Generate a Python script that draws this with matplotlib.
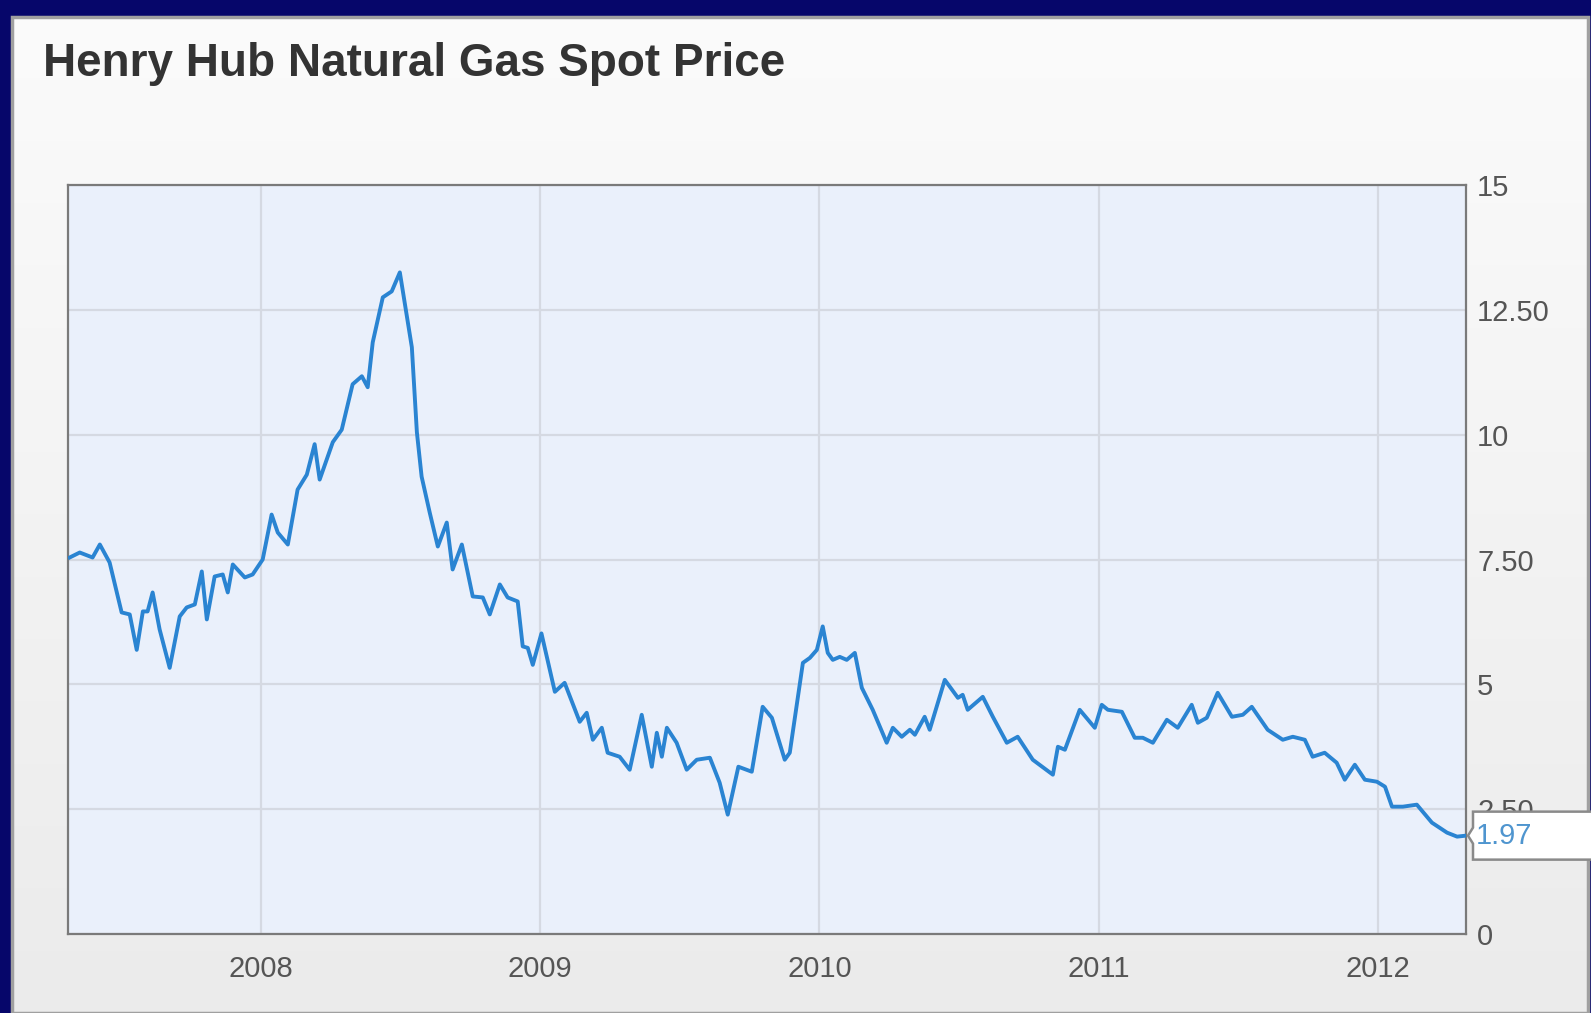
import matplotlib
matplotlib.use("Agg")
import matplotlib.pyplot as plt
from matplotlib import font_manager
from matplotlib.patches import Rectangle, Polygon
import numpy as np

# Henry Hub spot price (decimal year, $/MMBtu)
years = [
    2007.316, 2007.352, 2007.398, 2007.424, 2007.459, 2007.502, 2007.531, 2007.556,
    2007.578, 2007.595, 2007.613, 2007.638, 2007.674, 2007.710, 2007.735, 2007.764,
    2007.789, 2007.807, 2007.835, 2007.864, 2007.882, 2007.900, 2007.943, 2007.971,
    2008.007, 2008.039, 2008.061, 2008.097, 2008.132, 2008.165, 2008.193, 2008.211,
    2008.258, 2008.290, 2008.329, 2008.362, 2008.383, 2008.401, 2008.437, 2008.469,
    2008.498, 2008.541, 2008.559, 2008.576, 2008.605, 2008.634, 2008.666, 2008.687,
    2008.720, 2008.759, 2008.795, 2008.820, 2008.856, 2008.884, 2008.920, 2008.938,
    2008.956, 2008.974, 2009.005, 2009.053, 2009.088, 2009.142, 2009.167, 2009.189,
    2009.221, 2009.242, 2009.285, 2009.321, 2009.364, 2009.400, 2009.418, 2009.436,
    2009.454, 2009.489, 2009.525, 2009.561, 2009.608, 2009.643, 2009.672, 2009.710,
    2009.758, 2009.797, 2009.830, 2009.876, 2009.894, 2009.941, 2009.966, 2009.991,
    2010.012, 2010.030, 2010.048, 2010.073, 2010.098, 2010.127, 2010.152, 2010.191,
    2010.241, 2010.263, 2010.295, 2010.324, 2010.342, 2010.377, 2010.395, 2010.449,
    2010.496, 2010.513, 2010.531, 2010.585, 2010.621, 2010.671, 2010.710, 2010.764,
    2010.836, 2010.854, 2010.879, 2010.932, 2010.986, 2011.011, 2011.033, 2011.083,
    2011.129, 2011.158, 2011.194, 2011.244, 2011.283, 2011.333, 2011.355, 2011.387,
    2011.426, 2011.477, 2011.516, 2011.548, 2011.605, 2011.659, 2011.695, 2011.738,
    2011.766, 2011.809, 2011.852, 2011.881, 2011.917, 2011.953, 2011.996, 2012.025,
    2012.050, 2012.089, 2012.139, 2012.193, 2012.247, 2012.283, 2012.315,
]
prices = [
    7.54, 7.64, 7.54, 7.80, 7.44, 6.44, 6.40, 5.69,
    6.46, 6.46, 6.84, 6.10, 5.33, 6.36, 6.54, 6.60,
    7.26, 6.30, 7.16, 7.20, 6.84, 7.40, 7.14, 7.20,
    7.50, 8.40, 8.04, 7.80, 8.90, 9.20, 9.81, 9.10,
    9.85, 10.10, 11.01, 11.17, 10.95, 11.85, 12.75, 12.87,
    13.25, 11.75, 10.05, 9.16, 8.44, 7.76, 8.24, 7.30,
    7.80, 6.76, 6.74, 6.40, 7.00, 6.74, 6.66, 5.76,
    5.73, 5.39, 6.02, 4.85, 5.03, 4.25, 4.43, 3.89,
    4.13, 3.63, 3.55, 3.29, 4.39, 3.35, 4.03, 3.55,
    4.13, 3.83, 3.29, 3.49, 3.53, 3.03, 2.39, 3.35,
    3.25, 4.55, 4.33, 3.49, 3.63, 5.43, 5.53, 5.69,
    6.16, 5.63, 5.49, 5.55, 5.49, 5.63, 4.93, 4.49,
    3.83, 4.13, 3.95, 4.09, 3.99, 4.35, 4.09, 5.09,
    4.73, 4.79, 4.49, 4.75, 4.35, 3.83, 3.95, 3.49,
    3.19, 3.75, 3.69, 4.49, 4.13, 4.59, 4.49, 4.45,
    3.93, 3.93, 3.83, 4.29, 4.13, 4.59, 4.23, 4.33,
    4.83, 4.35, 4.39, 4.55, 4.09, 3.89, 3.95, 3.89,
    3.55, 3.63, 3.43, 3.09, 3.39, 3.09, 3.05, 2.95,
    2.55, 2.55, 2.59, 2.23, 2.03, 1.95, 1.97,
]
year_ticks = [2008, 2009, 2010, 2011, 2012]
price_ticks = [0, 2.5, 5, 7.5, 10, 12.5, 15]
price_labels = ["0", "2.50", "5", "7.50", "10", "12.50", "15"]
last_label = "1.97"

W, H = 1591, 1013
fig = plt.figure(figsize=(W / 100, H / 100), dpi=100)
fig.patch.set_facecolor("#06066a")

# light gray panel with a soft vertical gradient
px0, px1, py0, py1 = 12, 1588, 0, 996
bg = fig.add_axes([px0 / W, py0 / H, (px1 - px0) / W, (py1 - py0) / H], zorder=0)
grad = np.linspace(0, 1, 256).reshape(-1, 1)
bg.imshow(grad, aspect="auto", cmap=matplotlib.colors.LinearSegmentedColormap.from_list(
    "panel", ["#fbfbfb", "#ebebeb"]), extent=[0, 1, 0, 1], origin="upper")
bg.set_axis_off()
fig.patches.append(Rectangle((px0 / W, py0 / H), (px1 - px0) / W, (py1 - py0) / H,
                             transform=fig.transFigure, fill=False,
                             edgecolor="#a0a0a0", linewidth=2.5, zorder=1))

names = {f.name for f in font_manager.fontManager.ttflist}
if "Liberation Sans Narrow" in names:
    title_font, title_size = ["Liberation Sans Narrow", "DejaVu Sans"], 40
else:
    title_font, title_size = ["Liberation Sans", "DejaVu Sans"], 33
fig.text(43 / W, 1 - 64 / H, "Henry Hub Natural Gas Spot Price", ha="left", va="center",
         fontsize=title_size, fontweight="bold", color="#333333", family=title_font)

# plot area
l, r, t, b = 68, 1466, 185, 934
ax = fig.add_axes([l / W, 1 - b / H, (r - l) / W, (b - t) / H], zorder=2)
ax.set_facecolor("#eaf0fb")
ax.plot(years, prices, color="#2a84d2", linewidth=2.8, solid_joinstyle="round", zorder=3)
ax.set_xlim(2007.31, 2012.315)
ax.set_ylim(0, 15)
ax.set_xticks(year_ticks)
ax.set_xticklabels([str(y) for y in year_ticks])
ax.set_yticks(price_ticks)
ax.set_yticklabels(price_labels)
ax.yaxis.tick_right()
ax.grid(True, color="#d5d9e2", linewidth=1.6)
ax.set_axisbelow(True)
for s in ax.spines.values():
    s.set_color("#7a7a7a")
    s.set_linewidth(1.6)
ax.tick_params(axis="both", length=0, labelsize=21, labelcolor="#555555")
ax.tick_params(axis="x", pad=15)
ax.tick_params(axis="y", pad=8)
for lab in ax.get_xticklabels() + ax.get_yticklabels():
    lab.set_family(["Liberation Sans", "DejaVu Sans"])

# value tag at the last point
fig.canvas.draw()
_, yd = ax.transData.transform((years[-1], prices[-1]))
xd = ax.transAxes.transform((1, 0))[0]
tag = Polygon([(xd + 2, yd), (xd + 7, yd + 8), (xd + 7, yd + 24), (W + 5, yd + 24),
               (W + 5, yd - 24), (xd + 7, yd - 24), (xd + 7, yd - 8)],
              closed=True, transform=None, facecolor="white", edgecolor="#8a8a8a",
              linewidth=1.8, zorder=10)
fig.patches.append(tag)
fig.text((xd + 10) / W, yd / H, last_label, ha="left", va="center", fontsize=21,
         color="#4f95cf", family=["Liberation Sans", "DejaVu Sans"], zorder=11)

fig.savefig("out.png", dpi=100, facecolor=fig.get_facecolor())
